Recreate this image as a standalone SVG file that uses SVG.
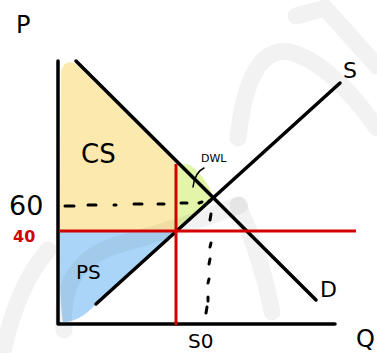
<svg xmlns="http://www.w3.org/2000/svg" width="377" height="353" viewBox="0 0 377 353">
<style>
.ln{fill:none;stroke:#000;stroke-width:3.5;stroke-linecap:round;stroke-linejoin:round}
.rd{fill:none;stroke:#d40000;stroke-width:3;stroke-linecap:butt}
.ds{fill:none;stroke:#000;stroke-width:3;stroke-linecap:round}
.wm{fill:none;stroke:#000;stroke-opacity:0.05;stroke-width:17;stroke-linecap:round}
.t{font-family:"DejaVu Sans","Liberation Sans",sans-serif;fill:#000}
</style>
<rect width="377" height="353" fill="#fff"/>
<g id="areas">
<path id="cs-area" d="M61 72 Q64 58 76 64 L176 162 L176 231 L60 231 Z" fill="#fce9ad"/>
<path id="ps-area" d="M60 231 L176 231 L96 304 Q80 322 63 322 Q59 300 60 231 Z" fill="#aad5f8"/>
<path id="dwl-area" d="M173 178 Q174 160 190 165 Q206 176 214 198 L177 231 L173 231 Z" fill="#e2f5a9"/>
</g>
<g id="watermark">
<path class="wm" d="M238 138 Q248 45 290 52 Q330 62 377 128"/>
<path class="wm" d="M296 16 L325 8 L377 66"/>
<path class="wm" d="M64 330 Q58 262 120 244 Q180 228 240 205"/>
<path class="wm" d="M238 205 Q262 258 272 312"/>
<path class="wm" d="M4 348 Q18 285 48 250"/>
</g>
<g id="connectors">
<path id="p-axis" class="ln" d="M58 61 L58 324 L335 324"/>
<path id="demand" class="ln" d="M76 61 L316 300"/>
<path id="supply" class="ln" d="M96 304 L340 83"/>
<path id="price-line" class="rd" d="M59 231 L356 231"/>
<path id="qty-line" class="rd" d="M176 164 L176 325"/>
<path id="price60" class="ds" d="M65 206 L74 206 M88 205 L96 205 M114 205 L116 205 M134 204 L142 204 M158 204 L164 204 M181 203 L187 203 M199 203 L202 202 M209 201 L210 201"/>
<path id="qty-s0" class="ds" d="M211 214 L210 220 M211 243 L210 247 M210 259 L209 264 M209 279 L208 283 M208 297 L208 301 M207 307 L206 313"/>
<path id="dwl-pointer" fill="none" stroke="#000" stroke-width="1.5" stroke-linecap="round" d="M204 168 Q195 172 193 187"/>
</g>
<g id="labels">
<text class="t" x="16" y="33" font-size="24">P</text>
<text class="t" x="81" y="163" font-size="26">CS</text>
<text class="t" x="9" y="215" font-size="27">60</text>
<text class="t" x="13" y="242" font-size="16" font-weight="bold" style="fill:#d40000">40</text>
<text class="t" x="76" y="279" font-size="20">PS</text>
<text class="t" x="201" y="162" font-size="11">DWL</text>
<text class="t" x="343" y="78" font-size="22">S</text>
<text class="t" x="320" y="297" font-size="22">D</text>
<text class="t" x="356" y="347" font-size="24">Q</text>
<text class="t" x="188" y="348" font-size="20">S0</text>
</g>
</svg>
